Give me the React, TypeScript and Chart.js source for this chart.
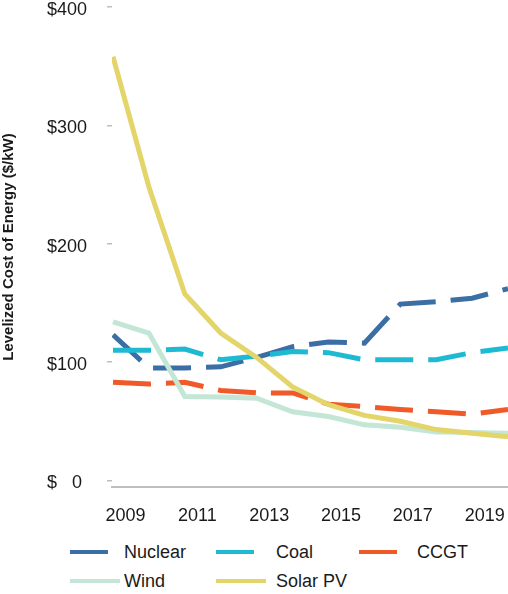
import { useEffect, useRef } from "react"
import { Chart, registerables } from "chart.js"

Chart.register(...registerables)

// valores, un punto por año
const nuclear = [123, 95, 95, 96, 104, 113, 117, 116, 149, 151, 154, 162]
const coal = [110, 110, 111, 102, 105, 109, 108, 102, 102, 102, 108, 112]
const ccgt = [83, 81.5, 83, 76, 74, 74, 64.5, 62.5, 60, 58, 56, 60]
const wind = [134, 124.5, 71, 70.5, 69.5, 58, 54, 47, 45, 41, 40.5, 40]
const solarPV = [358, 248, 157.5, 124.6, 104, 79, 64, 55, 50, 43, 40, 37]

const seriesNames = ["Nuclear", "Coal", "CCGT", "Wind", "Solar PV"]
const yearLabels = ["2009", "2011", "2013", "2015", "2017", "2019"]
const yTicks = [0, 100, 200, 300, 400]

const FONT = "'Liberation Sans', Arial, sans-serif"
const TEXT = "#1a1a1a"
const AXIS = "#bfbfbf"

const seriesStyle = [
  { color: "#3B6EA5", dashed: true },
  { color: "#1EBAD2", dashed: true },
  { color: "#F05A28", dashed: true },
  { color: "#C3E6D6", dashed: false },
  { color: "#E3D56A", dashed: false },
]

const LABEL_SHIFT = 0.35

export default function App() {
  const canvasRef = useRef<HTMLCanvasElement>(null)
  const chartRef = useRef<Chart | null>(null)

  useEffect(() => {
    if (!canvasRef.current) return
    const ctx = canvasRef.current.getContext("2d")
    if (!ctx) return

    const values = [nuclear, coal, ccgt, wind, solarPV]
    const datasets: any[] = values.map((vals, i) => ({
      label: seriesNames[i],
      data: vals.map((v, k) => ({ x: k, y: v })),
      borderColor: seriesStyle[i].color,
      backgroundColor: seriesStyle[i].color,
      borderWidth: 5,
      borderDash: seriesStyle[i].dashed ? [38, 15] : [],
      pointRadius: 0,
      tension: 0,
      fill: false,
      showLine: true,
      // las últimas series quedan encima, como en el original
      order: values.length - 1 - i,
    }))

    chartRef.current = new Chart(ctx, {
      type: "line",
      data: { datasets },
      options: {
        animation: false,
        responsive: true,
        maintainAspectRatio: false,
        layout: { padding: { top: 7, right: 0, left: 0, bottom: 0 } },
        plugins: {
          legend: { display: false },
          tooltip: { enabled: false },
        },
        scales: {
          x: {
            type: "linear",
            min: -0.028,
            max: 11,
            afterBuildTicks: (s: any) => {
              s.ticks = yearLabels.map((_, k) => ({ value: 2 * k + LABEL_SHIFT }))
            },
            afterFit: (s: any) => {
              s.height = 43
              s.paddingLeft = 0
              s.paddingRight = 0
            },
            ticks: {
              autoSkip: false,
              maxRotation: 0,
              padding: 18,
              color: TEXT,
              font: { family: FONT, size: 18 },
              callback: (_v: any, index: number) => yearLabels[index],
            },
            grid: { display: false, drawTicks: false },
            border: { display: true, color: AXIS, width: 2 },
          },
          y: {
            type: "linear",
            min: -5.5,
            max: 400,
            afterBuildTicks: (s: any) => {
              s.ticks = yTicks.map((v) => ({ value: v }))
            },
            afterFit: (s: any) => {
              s.width = 112
              s.paddingTop = 0
              s.paddingBottom = 0
            },
            ticks: {
              padding: 20,
              labelOffset: 3,
              color: TEXT,
              font: { family: FONT, size: 18 },
              callback: (v: any) => (v === 0 ? "$   0 " : "$" + v),
            },
            grid: {
              drawOnChartArea: false,
              drawTicks: true,
              tickLength: 5,
              color: AXIS,
              lineWidth: 1.5,
            },
            border: { display: false },
            title: {
              display: true,
              text: "Levelized Cost of Energy ($/kW)",
              color: TEXT,
              padding: 0,
              font: { family: FONT, size: 15, weight: "bold" },
            },
          },
        },
      },
    } as any)

    return () => {
      if (chartRef.current) {
        chartRef.current.destroy()
        chartRef.current = null
      }
    }
  }, [])

  // leyenda en HTML: tres columnas, dos filas
  const colLine = [70, 216, 359]
  const colText = [124, 276, 417]
  const rowY = [552, 581]

  return (
    <div style={{ position: "absolute", top: 0, left: 0, width: 508, height: 594, background: "#fff" }}>
      <div style={{ position: "absolute", top: 0, left: 0, width: 508, height: 530 }}>
        <canvas ref={canvasRef}></canvas>
      </div>
      {seriesNames.map((name, i) => {
        const row = Math.floor(i / 3)
        const col = i % 3
        const lineW = row === 0 ? 38 : 50
        return (
          <div key={name}>
            <div
              style={{
                position: "absolute",
                left: colLine[col],
                top: rowY[row] - 2,
                width: lineW,
                height: 4,
                background: seriesStyle[i].color,
              }}
            />
            <div
              style={{
                position: "absolute",
                left: colText[col],
                top: rowY[row] - 11,
                height: 22,
                lineHeight: "22px",
                fontFamily: FONT,
                fontSize: 18,
                color: TEXT,
                whiteSpace: "nowrap",
              }}
            >
              {name}
            </div>
          </div>
        )
      })}
    </div>
  )
}
